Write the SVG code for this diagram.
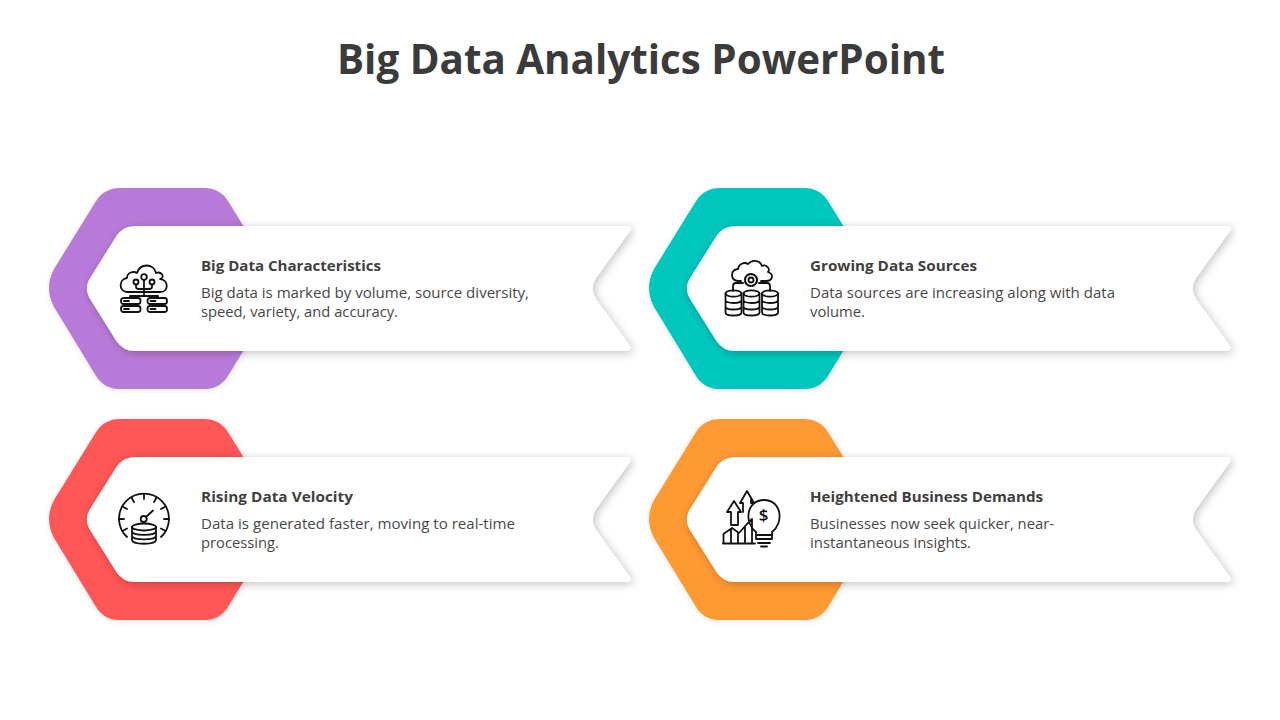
<svg xmlns="http://www.w3.org/2000/svg" width="1280" height="720" viewBox="0 0 1280 720">
<style>
text{font-family:"Open Sans","Noto Sans","Liberation Sans",sans-serif;fill:#404040}
.t{font-size:42px;font-weight:700;fill:#3b3b3b}
.h{font-size:15px;font-weight:700}
.b{font-size:15px;font-weight:400;fill:#484848}
.i{fill:none;stroke:#111;stroke-width:1.8;stroke-linecap:round;stroke-linejoin:round}
.card{fill:#fff;filter:url(#cs)}
.hex{filter:url(#hs)}
</style>
<defs>
<filter id="cs" x="-10%" y="-20%" width="120%" height="140%"><feDropShadow dx="2" dy="2" stdDeviation="5" flood-color="#000" flood-opacity=".24"/></filter>
<filter id="hs" x="-10%" y="-10%" width="120%" height="120%"><feDropShadow dx="1" dy="1" stdDeviation="3" flood-color="#000" flood-opacity=".1"/></filter>
<path id="hexShape" d="M95.700 201.600Q104 188 120 188H204Q220 188 228.300 201.600L270 269Q281 288 270 307L228.300 375.400Q220 389 204 389H120Q104 389 95.700 375.400L54 307Q44 288 54 269Z"/>
<path id="cardShape" d="M116.400 236Q123 226 135 226H626Q633 226 630 231L596 278Q589 288.500 596 299L630 346Q633 351 626 351H135Q123 351 116.400 341L90.700 300Q83 288.500 90.700 277Z"/>
<g id="cyl"><ellipse cx="0" cy="-9.500" rx="8" ry="3.200"/><path d="M-8 -9.500V9.500C-8 13.500 8 13.500 8 9.500V-9.500M-8 -3C-8 1 8 1 8 -3M-8 3.500C-8 7.500 8 7.500 8 3.500"/></g>
<g id="srv"><rect x="0" y="0" width="19.500" height="6" rx="2.500"/><rect x="0" y="8" width="19.500" height="6" rx="2.500"/><path d="M3 3H8M3 11H8"/></g>
</defs>
<rect width="1280" height="720" fill="#fff"/>
<text class="t" x="641" y="74" text-anchor="middle" textLength="608" lengthAdjust="spacingAndGlyphs">Big Data Analytics PowerPoint</text>

<g id="node-characteristics">
<use href="#hexShape" class="hex" fill="#B87AD8"/>
<use href="#cardShape" class="card"/>
<g class="i">
<path d="M127 292C118 291 119 279 127 278C127 272 134 271 137 273C140 263 154 263 156 273C161 271 166 277 160 279C169 280 169 292 160 292Z"/>
<circle cx="144" cy="277" r="2.800"/><circle cx="136" cy="282" r="2.500"/><circle cx="152" cy="282" r="2.500"/>
<path d="M144 280V296M136 284.500V287Q136 289 139 289H149Q152 289 152 287V284.500M130 298V296H158V298"/>
<use href="#srv" x="121" y="298"/><use href="#srv" x="147.500" y="298"/>
</g>
<text class="h" x="201" y="271" textLength="180" lengthAdjust="spacingAndGlyphs">Big Data Characteristics</text>
<text class="b" x="201" y="298" textLength="328" lengthAdjust="spacingAndGlyphs">Big data is marked by volume, source diversity,</text>
<text class="b" x="201" y="317" textLength="197" lengthAdjust="spacingAndGlyphs">speed, variety, and accuracy.</text>
</g>

<g id="node-sources">
<use href="#hexShape" x="600" class="hex" fill="#00C7BE"/>
<use href="#cardShape" x="600" class="card"/>
<g class="i">
<path d="M741 281H738C730 280 730 270 738 269C739 263 745 262 748 264C752 259 760 260 762 266C766 264 771 269 768 272C774 274 773 281 766 281H761"/>
<circle cx="751" cy="280" r="2.500"/><circle cx="751" cy="280" r="6" stroke-dasharray="3 1.700" stroke-width="2.200"/>
<path d="M743 283H736Q733 283 733 286V291M759 283H767Q770 283 770 286V291"/>
<use href="#cyl" x="733.500" y="303"/><use href="#cyl" x="751.500" y="303"/><use href="#cyl" x="770" y="303"/>
</g>
<text class="h" x="810" y="271" textLength="167" lengthAdjust="spacingAndGlyphs">Growing Data Sources</text>
<text class="b" x="810" y="298" textLength="305" lengthAdjust="spacingAndGlyphs">Data sources are increasing along with data</text>
<text class="b" x="810" y="317" textLength="55" lengthAdjust="spacingAndGlyphs">volume.</text>
</g>

<g id="node-velocity">
<use href="#hexShape" y="231" class="hex" fill="#FF5757"/>
<use href="#cardShape" y="231" class="card"/>
<g class="i">
<path d="M127 537A25 25 0 1 1 161 537"/>
<path d="M144 494V499M131.500 497.500L134 502M156.500 497.500L154 502M122.500 506.500L127 509M165.500 506.500L161 509M119 519H124M169 519H164M122.500 531L127 528.500M165.500 531L161 528.500"/>
<circle cx="143.700" cy="519" r="3"/><path d="M146 517L153 510.500"/>
<ellipse cx="144" cy="527" rx="12" ry="3.500"/><path d="M132 527V540C132 545 156 545 156 540V527M132 531.500C132 536 156 536 156 531.500M132 536C132 540.500 156 540.500 156 536"/>
</g>
<text class="h" x="201" y="502" textLength="152" lengthAdjust="spacingAndGlyphs">Rising Data Velocity</text>
<text class="b" x="201" y="529" textLength="314" lengthAdjust="spacingAndGlyphs">Data is generated faster, moving to real-time</text>
<text class="b" x="201" y="548" textLength="78" lengthAdjust="spacingAndGlyphs">processing.</text>
</g>

<g id="node-demands">
<use href="#hexShape" x="600" y="231" class="hex" fill="#FF9933"/>
<use href="#cardShape" x="600" y="231" class="card"/>
<g class="i">
<path d="M756 532C744 523 746 500 764 500C782 500 784 523 772 532V539H756Z"/>
<path d="M756 535H772M758 543H770M761 546.500H767"/>
<path d="M731 525V512H727L734 501L741 512H738V525ZM743 512V503H740L747 491L754 503H751V499"/>
<path d="M723.500 543V534L732 528L739 533L747 524L752 519M731 529V543M738 533V543M745 526V543M752 519V543"/>
<path d="M723 543.500H755"/>
</g>
<text x="763.500" y="521" font-size="17" font-weight="600" style="fill:#111" text-anchor="middle">$</text>
<text class="h" x="810" y="502" textLength="233" lengthAdjust="spacingAndGlyphs">Heightened Business Demands</text>
<text class="b" x="810" y="529" textLength="244" lengthAdjust="spacingAndGlyphs">Businesses now seek quicker, near-</text>
<text class="b" x="810" y="548" textLength="161" lengthAdjust="spacingAndGlyphs">instantaneous insights.</text>
</g>
<g id="connectors"/>
</svg>
